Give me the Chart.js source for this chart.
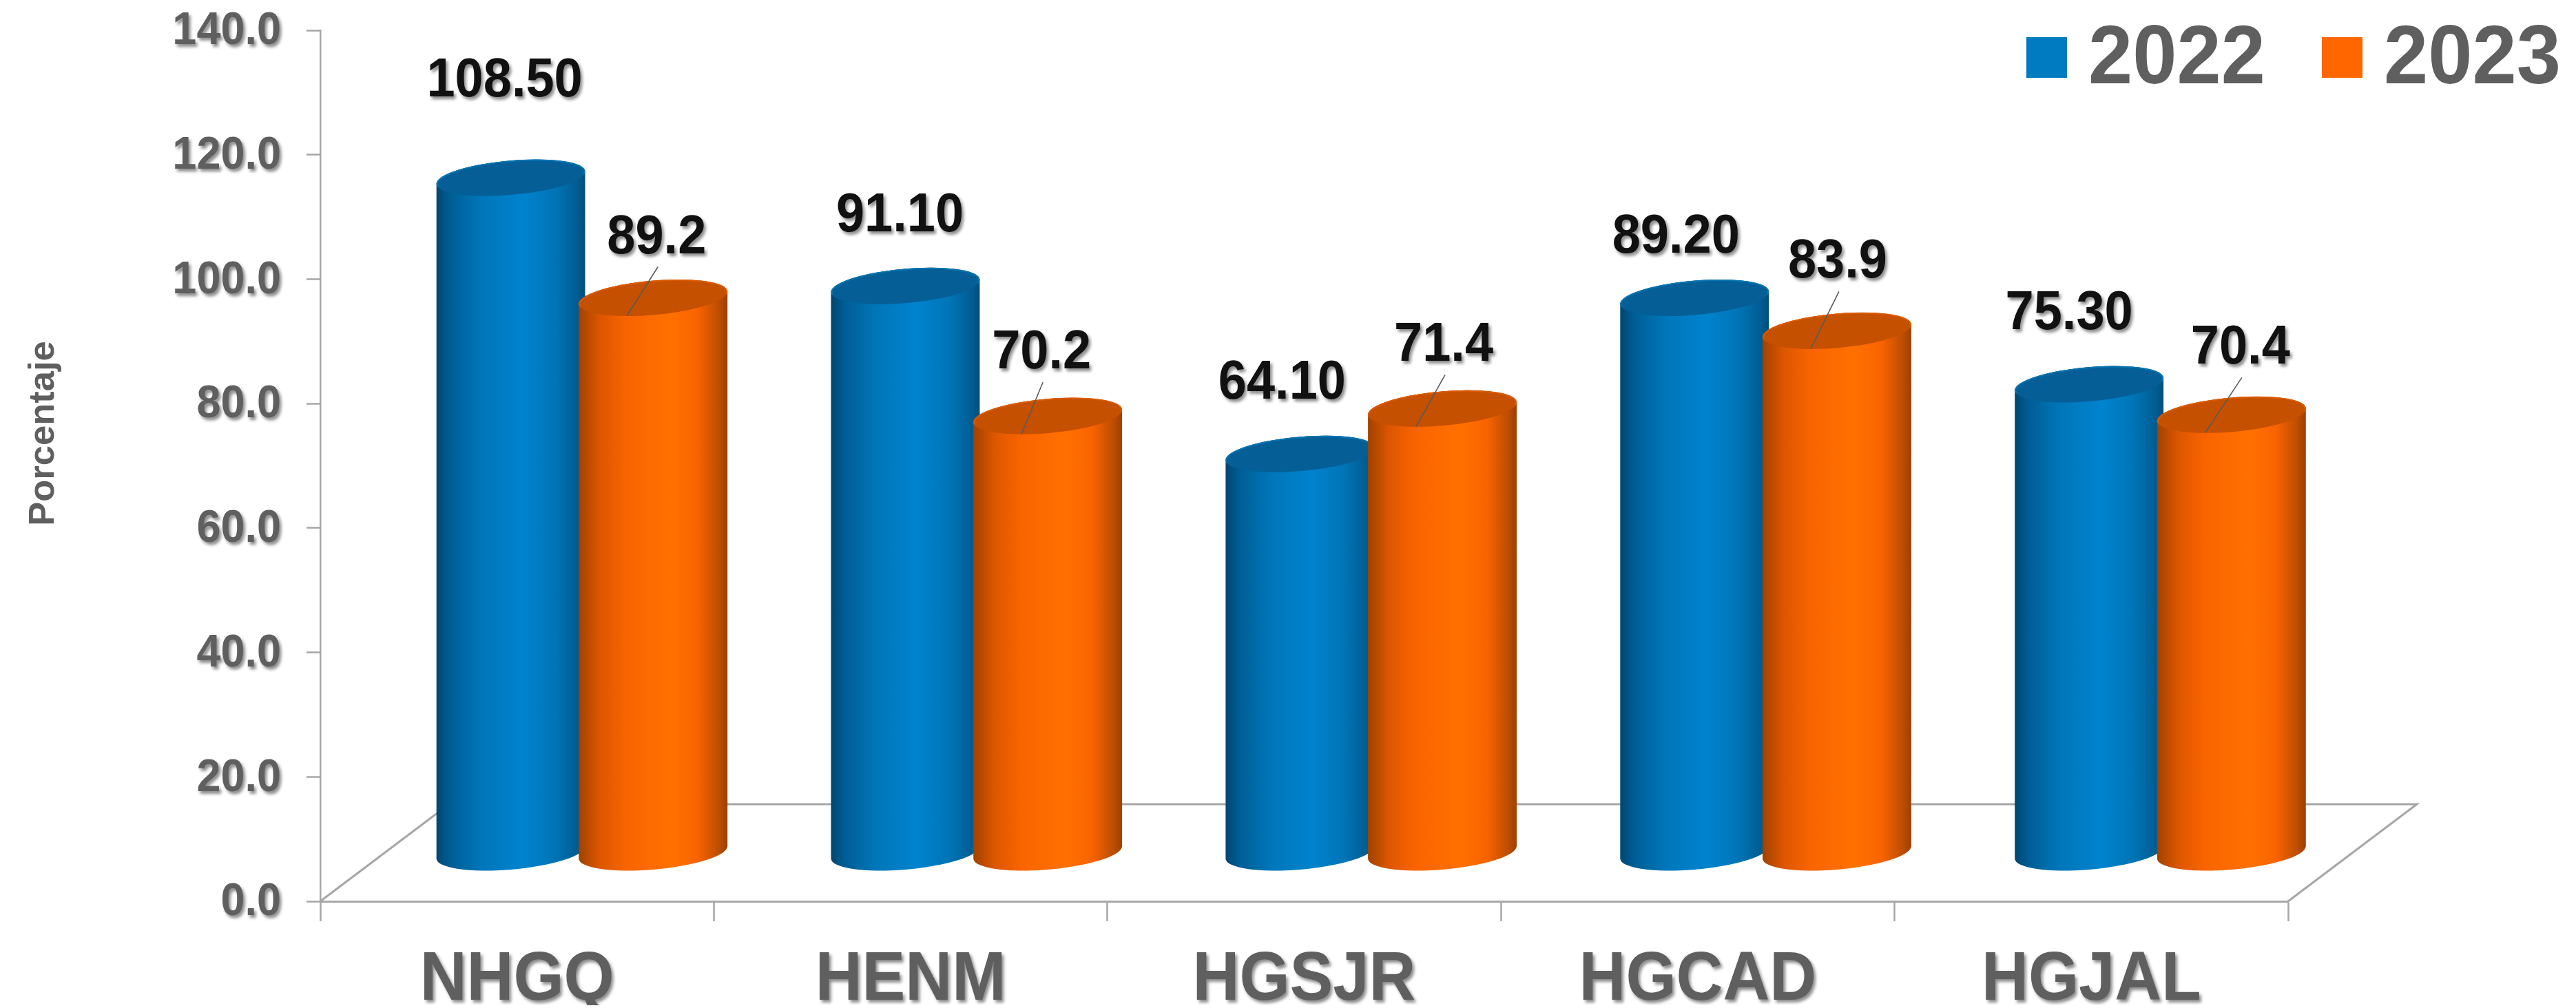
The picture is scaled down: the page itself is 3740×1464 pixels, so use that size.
<!DOCTYPE html>
<html>
<head>
<meta charset="utf-8">
<title>Porcentaje 2022 - 2023</title>
<style>
  html, body { margin: 0; padding: 0; background: #fff; }
  canvas { display: block; }
</style>
<script src="https://cdn.jsdelivr.net/npm/chart.js@4"></script>
</head>
<body>
<canvas id="chart" width="3740" height="1464"></canvas>
<script>
const categories = ['NHGQ', 'HENM', 'HGSJR', 'HGCAD', 'HGJAL'];
const seriesNames = ['2022', '2023'];
const values2022 = [108.5, 91.1, 64.1, 89.2, 75.3];
const values2023 = [89.2, 70.2, 71.4, 83.9, 70.4];
const labels2022 = ['108.50', '91.10', '64.10', '89.20', '75.30'];
const labels2023 = ['89.2', '70.2', '71.4', '83.9', '70.4'];
const yTickLabels = ['0.0', '20.0', '40.0', '60.0', '80.0', '100.0', '120.0', '140.0'];
const yTitle = 'Porcentaje';

// where each value label sits, relative to the top of its cylinder
const labelShift = [
  [[-9, -143], [-8, -104], [-26, -105], [-27, -91], [-29, -105]],
  [[5, -90], [-9, -94], [2, -94], [1, -102], [13, -99]]
];

const FONT = '"Liberation Sans", Arial, sans-serif';
const GREY = '#5f5f5f';
const AXIS = '#a6a6a6';
const BLUE = '#007ac1';
const ORANGE = '#ff6600';

// floor depth of the fake 3D box: the bars stand half way back
const DEPTH_X = 187, DEPTH_Y = 141;
const X_STRETCH = 1.0026;

const looks = {
  [BLUE]: {
    top: '#055f96', rim: '#0874b0',
    stops: [[0, '#00466f'], [0.09, '#005d95'], [0.3, '#0076b9'], [0.58, '#0083ce'], [0.8, '#0074b6'], [0.95, '#005c91'], [1, '#004d7b']]
  },
  [ORANGE]: {
    top: '#c45000', rim: '#da5a00',
    stops: [[0, '#a04200'], [0.14, '#dc5600'], [0.32, '#f96400'], [0.62, '#ff7000'], [0.8, '#f96300'], [0.94, '#bd4e00'], [1, '#9c4000']]
  }
};

const barTopCentre = (chart, bar) => {
  const left = chart.chartArea.left;
  return {
    x: left + (bar.x - left) * X_STRETCH + DEPTH_X / 2,
    y: bar.y - DEPTH_Y / 2
  };
};

// bars are drawn as cylinders, still placed by the bar controller
Chart.BarElement.prototype.draw = function (ctx) {
  const { x, y, base, width } = this.getProps(['x', 'y', 'base', 'width']);
  const look = looks[this.options.backgroundColor];
  const left = this.$chartLeft;
  const cx = left + (x - left) * X_STRETCH + DEPTH_X / 2;
  const top = y - DEPTH_Y / 2;
  const bottom = base - DEPTH_Y / 2;

  const tilt = -5 * Math.PI / 180;
  const a = width * 0.5 * 1.003;
  const b = width * 0.115;
  const t0 = Math.atan(-(b / a) * Math.tan(tilt));
  const px = a * Math.cos(t0) * Math.cos(tilt) - b * Math.sin(t0) * Math.sin(tilt);
  const py = a * Math.cos(t0) * Math.sin(tilt) + b * Math.sin(t0) * Math.cos(tilt);

  const grad = ctx.createLinearGradient(cx - px, 0, cx + px, 0);
  look.stops.forEach(s => grad.addColorStop(s[0], s[1]));

  ctx.save();
  ctx.beginPath();
  ctx.moveTo(cx + px, top + py);
  ctx.lineTo(cx + px, bottom + py);
  ctx.ellipse(cx, bottom, a, b, tilt, t0, t0 + Math.PI, false);
  ctx.lineTo(cx - px, top - py);
  ctx.ellipse(cx, top, a, b, tilt, t0 + Math.PI, t0 + 2 * Math.PI, false);
  ctx.closePath();
  ctx.fillStyle = grad;
  ctx.fill();

  ctx.beginPath();
  ctx.ellipse(cx, top, a, b, tilt, 0, 2 * Math.PI);
  ctx.fillStyle = look.top;
  ctx.fill();
  ctx.beginPath();
  ctx.ellipse(cx, top, a - 1, b - 1, tilt, t0 + Math.PI * 0.95, t0 + Math.PI * 2.05);
  ctx.strokeStyle = look.rim;
  ctx.lineWidth = 2;
  ctx.stroke();
  ctx.restore();
};

const textShadow = (ctx) => {
  ctx.shadowColor = 'rgba(0,0,0,0.45)';
  ctx.shadowBlur = 4;
  ctx.shadowOffsetX = 3;
  ctx.shadowOffsetY = 4;
};

// the lettering in the picture is a bit taller than the font
const tallText = (ctx, text, x, y, stretch) => {
  ctx.save();
  ctx.translate(x, y);
  ctx.scale(1, stretch);
  CanvasRenderingContext2D.prototype.fillText.call(ctx, text, 0, 0);
  ctx.restore();
};

const labelLook = { x: { stretch: 1.07, nudge: -4 }, y: { stretch: 1.05, nudge: 2 } };

const cylinderPlugin = {
  id: 'cylinderScene',
  beforeDraw(chart) {
    const { ctx, scales } = chart;
    chart.getSortedVisibleDatasetMetas().forEach(meta => {
      meta.data.forEach(bar => { bar.$chartLeft = chart.chartArea.left; });
    });
    // tick labels get the same soft shadow as the value labels
    Object.values(scales).forEach(scale => {
      if (scale.$shadowed) return;
      const drawLabels = scale.drawLabels;
      const look = labelLook[scale.id];
      scale.drawLabels = function (area) {
        ctx.save();
        textShadow(ctx);
        ctx.translate(0, look.nudge);
        ctx.fillText = (text, x, y) => tallText(ctx, text, x, y, look.stretch);
        drawLabels.call(this, area);
        delete ctx.fillText;
        ctx.restore();
      };
      scale.$shadowed = true;
    });
  },
  beforeDatasetsDraw(chart) {
    const { ctx, scales } = chart;
    const y0 = scales.y.getPixelForValue(0);
    const l = scales.x.left, r = scales.x.right;
    ctx.save();
    ctx.strokeStyle = AXIS;
    ctx.lineWidth = 3;
    ctx.beginPath();
    ctx.moveTo(l, y0);
    ctx.lineTo(l + DEPTH_X, y0 - DEPTH_Y);
    ctx.lineTo(r + DEPTH_X, y0 - DEPTH_Y);
    ctx.lineTo(r, y0);
    ctx.stroke();
    ctx.restore();
  },
  // 2023 overlaps 2022, so it has to go down after it
  beforeDatasetDraw(chart, args) {
    if (args.index === 1) return false;
  },
  afterDatasetsDraw(chart) {
    const { ctx } = chart;
    chart.getDatasetMeta(1).controller.draw();
    const texts = [labels2022, labels2023];
    ctx.save();
    ctx.textAlign = 'center';
    ctx.textBaseline = 'middle';
    ctx.font = 'bold 74px ' + FONT;
    [0, 1].forEach(ds => {
      chart.getDatasetMeta(ds).data.forEach((bar, i) => {
        const c = barTopCentre(chart, bar);
        const lx = c.x + labelShift[ds][i][0];
        const ly = c.y + labelShift[ds][i][1];
        if (ds === 1) {
          // thin leader from the label down to the front of the cylinder top
          ctx.strokeStyle = '#5a5a5a';
          ctx.lineWidth = 1.6;
          ctx.beginPath();
          ctx.moveTo(lx + 2, ly + 45);
          ctx.lineTo(c.x - 38, c.y + 26);
          ctx.stroke();
        }
        ctx.save();
        textShadow(ctx);
        ctx.fillStyle = '#111111';
        tallText(ctx, texts[ds][i], lx, ly + 3, 1.08);
        ctx.restore();
      });
    });
    ctx.restore();
  },
  afterDraw(chart) {
    const { ctx } = chart;
    ctx.save();
    // legend
    ctx.font = 'bold 115.5px ' + FONT;
    ctx.fillStyle = GREY;
    ctx.textAlign = 'left';
    ctx.textBaseline = 'alphabetic';
    [[2942, 3032, BLUE], [3371, 3461, ORANGE]].forEach((pos, i) => {
      ctx.fillStyle = pos[2];
      ctx.fillRect(pos[0], 54, 59, 59);
      ctx.fillStyle = GREY;
      tallText(ctx, seriesNames[i], pos[1], 121, 1.04);
    });
    // axis title, sits higher than the middle of the axis
    ctx.translate(78, 629.5);
    ctx.rotate(-Math.PI / 2);
    ctx.textAlign = 'center';
    ctx.font = 'bold 52.5px ' + FONT;
    ctx.fillText(yTitle, 0, 0);
    ctx.restore();
  }
};

new Chart(document.getElementById('chart'), {
  type: 'bar',
  data: {
    labels: categories,
    datasets: [
      { label: seriesNames[0], data: values2022, backgroundColor: BLUE, clip: false },
      { label: seriesNames[1], data: values2023, backgroundColor: ORANGE, clip: false }
    ]
  },
  plugins: [cylinderPlugin],
  options: {
    responsive: false,
    animation: false,
    categoryPercentage: 0.7215,
    barPercentage: 1.048,
    layout: { padding: { top: 44, right: 418, left: 0, bottom: 0 } },
    plugins: { legend: { display: false }, tooltip: { enabled: false } },
    scales: {
      x: {
        afterFit(scale) {
          scale.height = 155;
          scale.paddingLeft = scale.paddingRight = 0;
        },
        border: { display: true, color: AXIS, width: 3 },
        grid: { color: AXIS, drawOnChartArea: false, tickLength: 29, tickWidth: 2.5, tickColor: AXIS },
        ticks: {
          color: GREY,
          padding: 34,
          maxRotation: 0,
          font: { family: FONT, size: 94, weight: 'bold' }
        }
      },
      y: {
        min: 0,
        max: 140,
        afterFit(scale) {
          scale.width = 465;
          scale.paddingTop = scale.paddingBottom = 0;
        },
        border: { display: true, color: AXIS, width: 2.5 },
        grid: { color: AXIS, drawOnChartArea: false, tickLength: 20, tickWidth: 2.5, tickColor: AXIS },
        ticks: {
          stepSize: 20,
          color: GREY,
          padding: 37,
          font: { family: FONT, size: 63, weight: 'bold' },
          callback: (v, i) => yTickLabels[i]
        }
      }
    }
  }
});
</script>
</body>
</html>
